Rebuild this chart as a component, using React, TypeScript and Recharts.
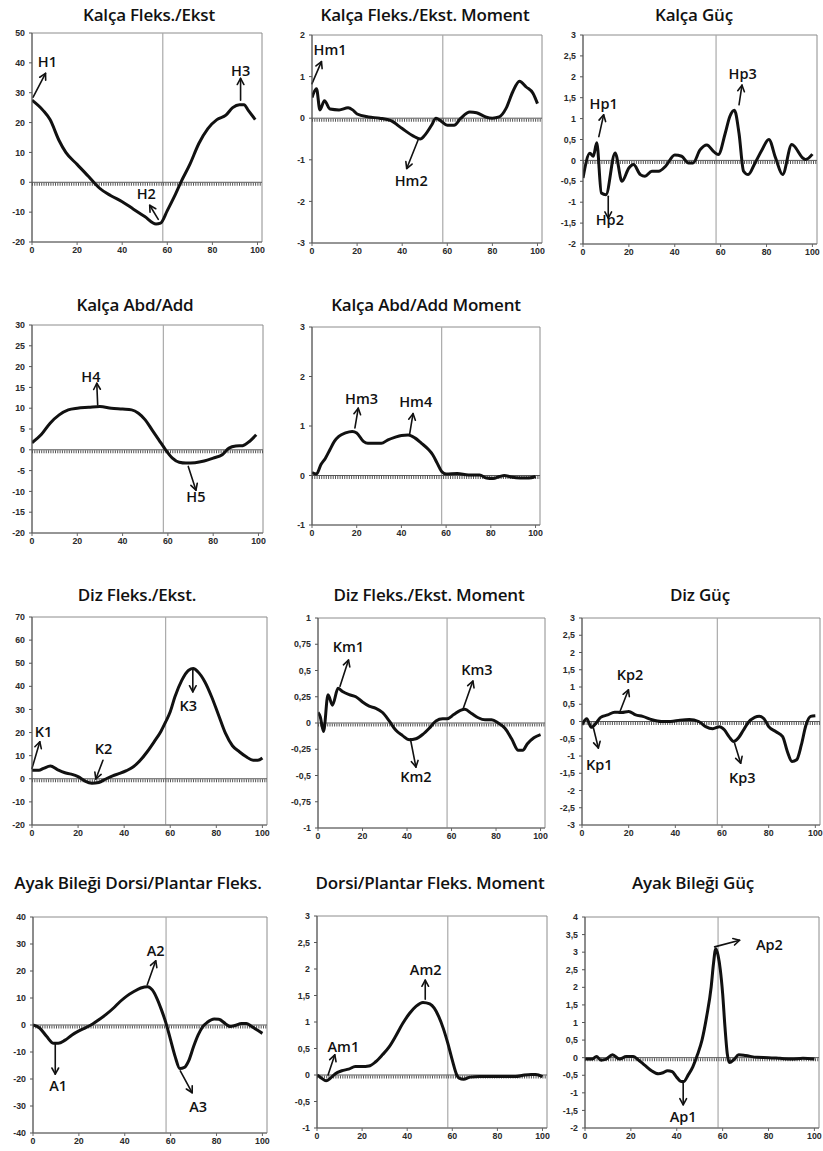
import React from 'react';
import { LineChart, Line, XAxis, YAxis, ReferenceLine, ReferenceArea, ReferenceDot } from 'recharts';

// gait cycle (%) and joint curves
const hipFlexX = [0, 5, 8, 12, 15, 20, 25, 28, 30, 35, 40, 45, 50, 55, 57, 60, 63, 66, 70, 74, 78, 82, 86, 89, 92, 94, 96, 99];
const hipFlexY = [27.5, 24, 21, 14, 10, 6, 2, -0.5, -2, -4.5, -6.5, -9, -11.5, -14, -13.7, -9.5, -5, 0, 6, 13, 18, 21, 22.5, 25, 26, 26, 24, 21];

const hipMomX = [0, 2, 3.5, 5.5, 8, 12, 16, 18, 20, 25, 30, 35, 40, 45, 48, 50, 53, 55, 57, 60, 63, 66, 70, 73, 77, 80, 83, 86, 89, 92, 95, 98, 100];
const hipMomY = [0.5, 0.71, 0.2, 0.42, 0.22, 0.2, 0.25, 0.2, 0.1, 0.03, 0, -0.06, -0.25, -0.43, -0.5, -0.41, -0.17, 0, -0.06, -0.17, -0.17, 0, 0.15, 0.13, 0.03, 0, 0.03, 0.23, 0.63, 0.89, 0.75, 0.6, 0.35];

const hipPowX = [0, 3, 4.5, 6, 8, 10, 14, 17, 20, 22, 25, 27, 30, 33, 36, 40, 43, 46, 48, 51, 54, 57, 59, 62, 64, 66, 68, 70, 72, 75, 78, 81, 84, 87, 91, 96, 97, 100];
const hipPowY = [-0.42, 0.17, 0.1, 0.42, -0.78, -0.82, 0.18, -0.5, -0.18, -0.1, -0.34, -0.38, -0.26, -0.26, -0.14, 0.13, 0.1, -0.06, -0.06, 0.25, 0.37, 0.21, 0.14, 0.65, 1.05, 1.2, 0.65, -0.26, -0.34, -0.06, 0.25, 0.5, 0.05, -0.34, 0.38, 0.05, 0.02, 0.15];

const hipAbdX = [0, 4, 8, 12, 16, 20, 25, 30, 35, 40, 44, 47, 50, 53, 56, 59, 62, 65, 68, 72, 76, 80, 84, 87, 90, 93, 96, 99];
const hipAbdY = [1.7, 3.6, 6.4, 8.4, 9.6, 10, 10.2, 10.4, 10, 9.8, 9.6, 8.8, 7.2, 4.8, 2.4, 0, -2, -3, -3.2, -3.1, -2.7, -2, -1.2, 0.4, 0.9, 1, 2, 3.6];

const hipAbdMomX = [0, 2, 4, 6, 8, 10, 12, 15, 18, 20, 23, 25, 28, 31, 34, 37, 40, 43, 46, 49, 52, 54, 56, 58, 60, 65, 70, 75, 78, 81, 84, 86, 89, 93, 97, 100];
const hipAbdMomY = [0.06, 0.03, 0.22, 0.35, 0.52, 0.69, 0.79, 0.86, 0.89, 0.86, 0.69, 0.65, 0.65, 0.65, 0.72, 0.77, 0.81, 0.82, 0.76, 0.65, 0.53, 0.42, 0.25, 0.08, 0.03, 0.04, 0.01, 0.01, -0.05, -0.06, -0.02, 0, -0.03, -0.05, -0.05, -0.02];

const kneeFlexX = [0, 3, 5, 8, 11, 14, 17, 20, 23, 26, 29, 32, 35, 38, 41, 44, 47, 50, 53, 56, 58, 60, 62, 65, 68, 70, 72, 75, 78, 81, 84, 87, 90, 93, 96, 98, 100];
const kneeFlexY = [3.7, 3.7, 4.5, 5.5, 4, 2.7, 2, 0.9, -1, -1.9, -1.6, -0.1, 1.3, 2.3, 3.5, 5.2, 8, 11.7, 16, 20.6, 24.6, 29, 35.4, 42.6, 47, 47.7, 46.3, 42, 35.4, 27.5, 19.6, 14.3, 11.7, 9.5, 8, 8, 9];

const kneeMomX = [0, 1, 2.5, 4.5, 6.5, 9, 11, 14, 17, 20, 23, 26, 29, 32, 35, 38, 41, 44, 47, 50, 53, 56, 58, 61, 64, 66, 69, 72, 75, 78, 81, 84, 87, 90, 92, 94, 97, 100];
const kneeMomY = [0.1, 0.06, -0.08, 0.27, 0.17, 0.33, 0.3, 0.27, 0.25, 0.2, 0.16, 0.14, 0.1, 0.02, -0.07, -0.12, -0.16, -0.15, -0.11, -0.05, 0.02, 0.04, 0.04, 0.08, 0.12, 0.13, 0.09, 0.05, 0.03, 0.03, 0, -0.05, -0.15, -0.26, -0.26, -0.2, -0.14, -0.11];

const kneePowX = [0, 2, 4, 6, 8, 11, 14, 17, 20, 23, 26, 30, 34, 38, 42, 46, 50, 53, 56, 59, 61, 63, 65, 67, 69, 71, 74, 76, 78, 80, 83, 86, 88, 90, 92, 94, 96, 98, 100];
const kneePowY = [-0.1, 0.08, -0.17, -0.05, 0.12, 0.19, 0.27, 0.26, 0.29, 0.19, 0.15, 0.05, 0, 0, 0.04, 0.06, 0, -0.15, -0.21, -0.15, -0.24, -0.44, -0.58, -0.48, -0.27, -0.05, 0.12, 0.15, 0.08, -0.15, -0.29, -0.44, -0.87, -1.16, -1.11, -0.68, -0.1, 0.15, 0.17];

const ankleX = [0, 3, 6, 9, 11, 14, 17, 20, 23, 26, 29, 32, 35, 38, 41, 44, 47, 50, 52, 54, 56, 58, 60, 62, 64, 66, 68, 70, 72, 74, 76, 79, 81, 84, 86, 88, 91, 93, 95, 97, 100];
const ankleY = [0, -1.2, -4.3, -6.8, -6.8, -5.6, -3.7, -2.2, -1, 0.4, 2.1, 4, 6.2, 8.7, 10.8, 12.4, 13.7, 14.2, 13, 9.9, 5.6, 0.6, -5.6, -11.8, -16.1, -15.7, -13, -8, -3.7, -0.6, 1, 2.2, 2.1, 0.4, -0.6, -0.2, 0.6, 0.6, -0.4, -1.5, -3.1];

const ankleMomX = [0, 2, 4, 6, 8, 11, 14, 17, 20, 23, 26, 29, 32, 35, 38, 41, 44, 47, 50, 52, 54, 56, 58, 60, 62, 63, 65, 68, 72, 80, 88, 92, 95, 97, 100];
const ankleMomY = [0, -0.06, -0.11, -0.06, 0.02, 0.08, 0.11, 0.16, 0.16, 0.17, 0.25, 0.38, 0.53, 0.74, 0.97, 1.16, 1.3, 1.37, 1.34, 1.26, 1.1, 0.88, 0.6, 0.28, 0, -0.06, -0.08, -0.04, -0.03, -0.03, -0.03, 0, 0.01, 0.01, -0.03];

const anklePowX = [0, 3, 5, 7, 9, 12, 15, 18, 21, 23, 26, 29, 32, 34, 36, 38, 40, 42, 43, 45, 47, 49, 51, 53, 55, 56, 57, 58, 59, 60, 61, 62, 63, 65, 67, 70, 75, 80, 85, 90, 95, 100];
const anklePowY = [-0.04, -0.04, 0.03, -0.07, -0.05, 0.08, -0.04, 0.03, 0.03, -0.05, -0.21, -0.37, -0.46, -0.43, -0.37, -0.4, -0.56, -0.68, -0.68, -0.49, -0.26, 0.08, 0.5, 1.16, 2.01, 2.67, 3.1, 2.91, 2.49, 1.82, 0.88, 0.12, -0.14, -0.05, 0.08, 0.06, 0.01, 0, -0.02, -0.04, -0.02, -0.04];

const xTicks = [0, 20, 40, 60, 80, 100];
const toeOff = 58;

// annotation: label position + arrow from (x1,y1) to head (x2,y2), all in data units
type Note = { t: string; lx: number; ly: number; x1: number; y1: number; x2: number; y2: number };

const hipFlexNotes: Note[] = [
  { t: 'H1', lx: 6.8, ly: 40.4, x1: 0.5, y1: 28.5, x2: 6, y2: 36.5 },
  { t: 'H2', lx: 50.7, ly: -3.8, x1: 56, y1: -12.4, x2: 52.2, y2: -7.7 },
  { t: 'H3', lx: 92.5, ly: 37.6, x1: 92.5, y1: 27.5, x2: 92.5, y2: 34.8 },
];
const hipMomNotes: Note[] = [
  { t: 'Hm1', lx: 8, ly: 1.64, x1: 0, y1: 0.83, x2: 4.2, y2: 1.36 },
  { t: 'Hm2', lx: 44, ly: -1.49, x1: 47, y1: -0.53, x2: 42, y2: -1.21 },
];
const hipPowNotes: Note[] = [
  { t: 'Hp1', lx: 9, ly: 1.37, x1: 6.9, y1: 0.57, x2: 9, y2: 1.09 },
  { t: 'Hp2', lx: 11.7, ly: -1.42, x1: 11, y1: -0.86, x2: 11, y2: -1.38 },
  { t: 'Hp3', lx: 69.6, ly: 2.09, x1: 68, y1: 1.33, x2: 69.3, y2: 1.8 },
];
const hipAbdNotes: Note[] = [
  { t: 'H4', lx: 26, ly: 17.6, x1: 29, y1: 10.8, x2: 28.6, y2: 16 },
  { t: 'H5', lx: 72.4, ly: -11.3, x1: 69, y1: -4, x2: 72.4, y2: -9.7 },
];
const hipAbdMomNotes: Note[] = [
  { t: 'Hm3', lx: 22.2, ly: 1.56, x1: 19.2, y1: 0.96, x2: 20.7, y2: 1.36 },
  { t: 'Hm4', lx: 46.4, ly: 1.5, x1: 43.7, y1: 0.84, x2: 45.2, y2: 1.25 },
];
const kneeFlexNotes: Note[] = [
  { t: 'K1', lx: 5, ly: 20.3, x1: 0, y1: 4.5, x2: 3.4, y2: 16 },
  { t: 'K2', lx: 31, ly: 13.1, x1: 30.8, y1: 8, x2: 27.7, y2: -0.1 },
  { t: 'K3', lx: 67.8, ly: 31.8, x1: 69.8, y1: 47, x2: 69.8, y2: 37.6 },
];
const kneeMomNotes: Note[] = [
  { t: 'Km1', lx: 13.7, ly: 0.73, x1: 9.9, y1: 0.35, x2: 13.7, y2: 0.6 },
  { t: 'Km2', lx: 44, ly: -0.51, x1: 41.5, y1: -0.15, x2: 44, y2: -0.42 },
  { t: 'Km3', lx: 71.4, ly: 0.51, x1: 65.3, y1: 0.14, x2: 69.6, y2: 0.4 },
];
const kneePowNotes: Note[] = [
  { t: 'Kp1', lx: 7.4, ly: -1.24, x1: 4.9, y1: -0.19, x2: 7, y2: -0.77 },
  { t: 'Kp2', lx: 20.6, ly: 1.35, x1: 16, y1: 0.24, x2: 19.9, y2: 0.92 },
  { t: 'Kp3', lx: 68.7, ly: -1.62, x1: 65.4, y1: -0.63, x2: 68, y2: -1.21 },
];
const ankleNotes: Note[] = [
  { t: 'A1', lx: 11, ly: -22.5, x1: 9.7, y1: -6.8, x2: 9.7, y2: -18.2 },
  { t: 'A2', lx: 53.5, ly: 27.6, x1: 49.8, y1: 14.9, x2: 53.5, y2: 23.8 },
  { t: 'A3', lx: 72, ly: -30.1, x1: 64.2, y1: -17, x2: 69.4, y2: -25.1 },
];
const ankleMomNotes: Note[] = [
  { t: 'Am1', lx: 11.7, ly: 0.53, x1: 4.9, y1: 0, x2: 7.9, y2: 0.38 },
  { t: 'Am2', lx: 48.2, ly: 2.0, x1: 48, y1: 1.43, x2: 48, y2: 1.79 },
];
const anklePowNotes: Note[] = [
  { t: 'Ap1', lx: 42.8, ly: -1.67, x1: 42.8, y1: -0.73, x2: 42.8, y2: -1.34 },
  { t: 'Ap2', lx: 80.4, ly: 3.22, x1: 56.5, y1: 3.15, x2: 67.4, y2: 3.34 },
];

const range = (a: number, b: number, s: number) => {
  const out: number[] = [];
  for (let v = a; v >= b - 1e-9; v -= s) out.push(Math.round(v * 100) / 100);
  return out;
};

type Cfg = {
  title: string; tx: number; ty: number;
  l: number; t: number; r: number; b: number;
  yTicks: number[]; xs: number[]; ys: number[]; notes: Note[];
};

const panels: Cfg[] = [
  { title: 'Kalça Fleks./Ekst', tx: 149, ty: 15, l: 32, t: 33, r: 262, b: 242, yTicks: range(50, -20, 10), xs: hipFlexX, ys: hipFlexY, notes: hipFlexNotes },
  { title: 'Kalça Fleks./Ekst. Moment', tx: 425, ty: 15, l: 312, t: 35, r: 542, b: 243, yTicks: range(2, -3, 1), xs: hipMomX, ys: hipMomY, notes: hipMomNotes },
  { title: 'Kalça Güç', tx: 694, ty: 15, l: 583, t: 35, r: 817, b: 244, yTicks: range(3, -2, 0.5), xs: hipPowX, ys: hipPowY, notes: hipPowNotes },
  { title: 'Kalça Abd/Add', tx: 135, ty: 305, l: 32, t: 325, r: 263, b: 533, yTicks: range(30, -20, 5), xs: hipAbdX, ys: hipAbdY, notes: hipAbdNotes },
  { title: 'Kalça Abd/Add Moment', tx: 426, ty: 305, l: 312, t: 327, r: 540, b: 525, yTicks: range(3, -1, 1), xs: hipAbdMomX, ys: hipAbdMomY, notes: hipAbdMomNotes },
  { title: 'Diz Fleks./Ekst.', tx: 137, ty: 595, l: 32, t: 617, r: 267, b: 825, yTicks: range(70, -20, 10), xs: kneeFlexX, ys: kneeFlexY, notes: kneeFlexNotes },
  { title: 'Diz Fleks./Ekst. Moment', tx: 429, ty: 595, l: 318, t: 618, r: 545, b: 828, yTicks: range(1, -1, 0.25), xs: kneeMomX, ys: kneeMomY, notes: kneeMomNotes },
  { title: 'Diz Güç', tx: 700, ty: 595, l: 582, t: 618, r: 820, b: 825, yTicks: range(3, -3, 0.5), xs: kneePowX, ys: kneePowY, notes: kneePowNotes },
  { title: 'Ayak Bileği Dorsi/Plantar Fleks.', tx: 138, ty: 883, l: 33, t: 917, r: 267, b: 1133, yTicks: range(40, -40, 10), xs: ankleX, ys: ankleY, notes: ankleNotes },
  { title: 'Dorsi/Plantar Fleks. Moment', tx: 430, ty: 883, l: 317, t: 916, r: 547, b: 1128, yTicks: range(3, -1, 0.5), xs: ankleMomX, ys: ankleMomY, notes: ankleMomNotes },
  { title: 'Ayak Bileği Güç', tx: 693, ty: 883, l: 585, t: 917, r: 819, b: 1128, yTicks: range(4, -2, 0.5), xs: anklePowX, ys: anklePowY, notes: anklePowNotes },
];

const YW = 30;
const PAD = 4;
const XH = 17;
const tickStyle = { fontSize: 8.8, fontWeight: 700, fill: '#2a2a2a', fontFamily: 'Liberation Sans, Arial, sans-serif' };
const fmt = (v: number) => String(v).replace('.', ',');

const arrowShape = (p: any) => {
  const { x1, y1, x2, y2 } = p;
  if (x1 == null) return <g />;
  const a = Math.atan2(y2 - y1, x2 - x1);
  const L = 7;
  const s = 0.5;
  const h1 = `${x2 - L * Math.cos(a - s)},${y2 - L * Math.sin(a - s)}`;
  const h2 = `${x2 - L * Math.cos(a + s)},${y2 - L * Math.sin(a + s)}`;
  return (
    <g stroke="#111" strokeWidth={1.6} fill="none" strokeLinecap="round" strokeLinejoin="round">
      <line x1={x1} y1={y1} x2={x2} y2={y2} />
      <polyline points={`${h1} ${x2},${y2} ${h2}`} />
    </g>
  );
};

const zeroShape = (p: any) => {
  const { x1, y1, x2, y2 } = p;
  if (x1 == null) return <g />;
  return (
    <g>
      <line x1={x1} y1={y1} x2={x2} y2={y2} stroke="#555" strokeWidth={1} />
      <line x1={x1} y1={y1 + 2} x2={x2} y2={y2 + 2} stroke="#555" strokeWidth={3} strokeDasharray="1 1.3" />
    </g>
  );
};

function Panel({ cfg }: { cfg: Cfg }) {
  const data = cfg.xs.map((x, i) => ({ x, y: cfg.ys[i] }));
  const yMax = cfg.yTicks[0];
  const yMin = cfg.yTicks[cfg.yTicks.length - 1];
  const w = cfg.r - cfg.l + YW + PAD;
  const h = cfg.b - cfg.t + PAD + XH;
  return (
    <>
      <div
        style={{
          position: 'absolute', left: cfg.tx - 170, top: cfg.ty - 13, width: 340, lineHeight: '26px',
          textAlign: 'center', fontFamily: '"Open Sans", sans-serif', fontWeight: 600, fontSize: 17,
          color: '#111', whiteSpace: 'nowrap', letterSpacing: -0.2,
        }}
      >
        {cfg.title}
      </div>
      <div style={{ position: 'absolute', left: cfg.l - YW, top: cfg.t - PAD }}>
        <LineChart width={w} height={h} data={data} margin={{ top: PAD, right: PAD, left: 0, bottom: 0 }}>
          <XAxis
            type="number" dataKey="x" domain={[0, 102]} ticks={xTicks} interval={0} allowDataOverflow
            height={XH} tick={tickStyle} tickSize={3} tickMargin={2}
            axisLine={{ stroke: '#666' }} tickLine={{ stroke: '#666' }}
          />
          <YAxis
            type="number" domain={[yMin, yMax]} ticks={cfg.yTicks} interval={0} allowDataOverflow
            width={YW} tick={tickStyle} tickSize={3} tickMargin={4} tickFormatter={fmt}
            axisLine={{ stroke: '#555' }} tickLine={{ stroke: '#555' }}
          />
          <ReferenceArea x1={0} x2={102} y1={yMin} y2={yMax} fill="none" stroke="#8c8c8c" strokeWidth={1} ifOverflow="visible" />
          <ReferenceLine x={toeOff} stroke="#aaa" strokeWidth={1.2} />
          <ReferenceLine y={0} shape={zeroShape} />
          <Line
            type="monotone" dataKey="y" stroke="#111" strokeWidth={3} dot={false}
            strokeLinejoin="round" isAnimationActive={false}
          />
          {cfg.notes.map((n) => (
            <ReferenceLine
              key={n.t + 'a'}
              segment={[{ x: n.x1, y: n.y1 }, { x: n.x2, y: n.y2 }]}
              shape={arrowShape}
              ifOverflow="visible"
            />
          ))}
          {cfg.notes.map((n) => (
            <ReferenceDot
              key={n.t}
              x={n.lx}
              y={n.ly}
              r={0}
              ifOverflow="visible"
              shape={(p: any) => (
                <text
                  x={p.cx} y={p.cy} textAnchor="middle" dominantBaseline="central"
                  fontFamily='"Open Sans", sans-serif' fontWeight={600} fontSize={14.5} fill="#111"
                >
                  {n.t}
                </text>
              )}
            />
          ))}
        </LineChart>
      </div>
    </>
  );
}

export default function App() {
  return (
    <div style={{ position: 'fixed', left: 0, top: 0, width: 823, height: 1151, overflow: 'hidden', background: '#fff' }}>
      {panels.map((c) => (
        <Panel key={c.title} cfg={c} />
      ))}
    </div>
  );
}
